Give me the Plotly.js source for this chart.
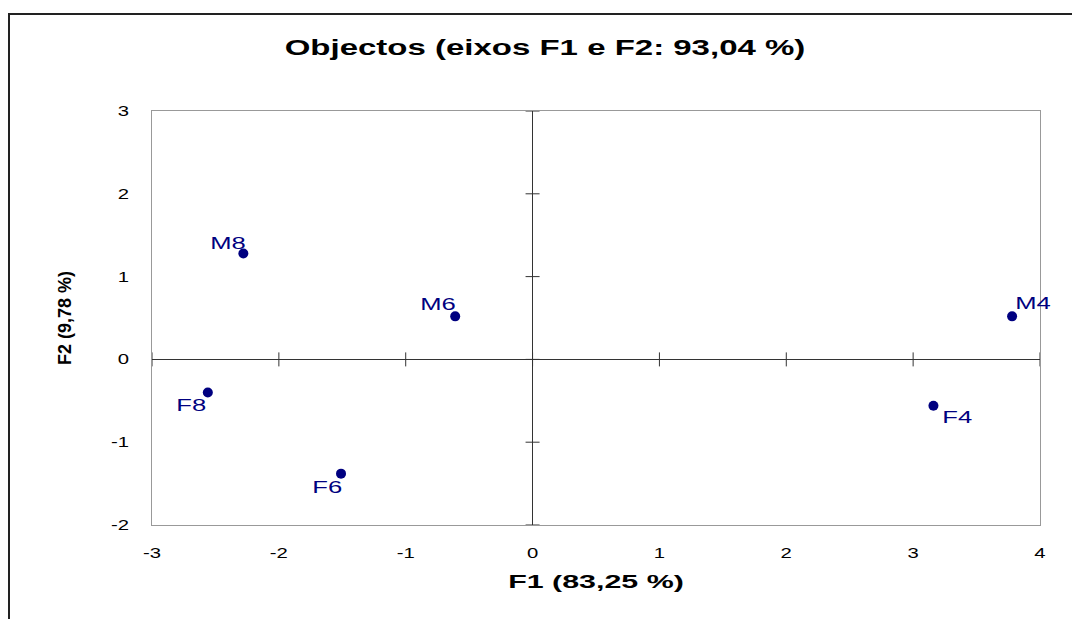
<!DOCTYPE html>
<html>
<head>
<meta charset="utf-8">
<script src="https://cdn.plot.ly/plotly-3.0.1.min.js"></script>
<style>
  html, body { margin: 0; padding: 0; background: #fff; }
  #wrap { position: relative; width: 1072px; height: 619px; overflow: hidden; }
  #chart { position: absolute; left: 0; top: 0; width: 1072px; height: 619px; }
  #frame { position: absolute; left: 8px; top: 13px; width: 2000px; height: 2000px;
           border-left: 2px solid #222; border-top: 2px solid #222; pointer-events: none; }
</style>
</head>
<body>
<div id="wrap">
  <div id="chart"></div>
  <div id="frame"></div>
</div>
<script>
// Data
const labels = ["M8", "M6", "M4", "F8", "F6", "F4"];
const f1 = [-2.28, -0.61, 3.78, -2.56, -1.51, 3.16];
const f2 = [1.28, 0.52, 0.52, -0.40, -1.38, -0.56];

const xTicks = [-3, -2, -1, 0, 1, 2, 3, 4];
const yTicks = [-2, -1, 0, 1, 2, 3];

// label placement (pixel offsets of each label centre from its point) - styling only
const labelShiftX = [-15, -17, 21, -16, -14, 24];
const labelShiftY = [10, 12, 13, -13, -14, -12];

const font = "Liberation Sans, Arial, sans-serif";
const navy = "#000080";

const traces = [
  {
    x: xTicks, y: xTicks.map(() => 0),
    mode: "markers", type: "scatter", hoverinfo: "skip", cliponaxis: false,
    marker: { symbol: "line-ns-open", size: 10, line: { width: 1, color: "#333" }, color: "#333" }
  },
  {
    x: yTicks.map(() => 0), y: yTicks,
    mode: "markers", type: "scatter", hoverinfo: "skip", cliponaxis: false,
    marker: { symbol: "line-ew-open", size: 10, line: { width: 1, color: "#333" }, color: "#333" }
  },
  {
    x: f1, y: f2, text: labels,
    mode: "markers", type: "scatter", cliponaxis: false,
    marker: { color: navy, size: 10, symbol: "circle" }
  }
];

const annotations = labels.map((lab, i) => ({
  x: f1[i], y: f2[i], xref: "x", yref: "y",
  text: lab, showarrow: false,
  xanchor: "center", yanchor: "middle",
  xshift: labelShiftX[i], yshift: labelShiftY[i],
  font: { family: font, size: 16, color: navy }
}));

const layout = {
  width: 1072, height: 619,
  margin: { l: 152, r: 32, t: 111, b: 94 },
  paper_bgcolor: "#fff", plot_bgcolor: "#fff",
  showlegend: false,
  annotations: annotations,
  title: {
    text: "<b>Objectos (eixos F1 e F2: 93,04 %)</b>",
    font: { family: font, size: 22, color: "#000" },
    x: 545 / 1072, xref: "container", xanchor: "center",
    y: 1 - 47 / 619, yref: "container", yanchor: "middle"
  },
  xaxis: {
    range: [-3, 4], tickvals: xTicks, ticktext: xTicks.map(String),
    showgrid: false, zeroline: true, zerolinecolor: "#333", zerolinewidth: 1,
    showline: true, mirror: true, linecolor: "#999", linewidth: 1,
    ticks: "outside", ticklen: 15, tickcolor: "rgba(0,0,0,0)",
    tickfont: { family: font, size: 14, color: "#000" },
    title: { text: "<b>F1 (83,25 %)</b>", font: { family: font, size: 19, color: "#000" }, standoff: 14 },
    fixedrange: true
  },
  yaxis: {
    range: [-2, 3], tickvals: yTicks, ticktext: yTicks.map(String),
    showgrid: false, zeroline: true, zerolinecolor: "#333", zerolinewidth: 1,
    showline: true, mirror: true, linecolor: "#999", linewidth: 1,
    ticks: "outside", ticklen: 19, tickcolor: "rgba(0,0,0,0)",
    tickfont: { family: font, size: 14, color: "#000" },
    title: { text: "<b>F2 (9,78 %)</b>", font: { family: font, size: 18, color: "#000" }, standoff: 40 },
    fixedrange: true
  }
};

// The reference's lettering is horizontally widened; stretch the real text glyphs.
function stretch(selector, sx, forceCenter) {
  document.querySelectorAll(selector).forEach(t => {
    const b = t.getBBox();
    const anchor = forceCenter ? "middle" : (t.getAttribute("text-anchor") || getComputedStyle(t).textAnchor || "start");
    let px = b.x + b.width / 2;
    if (anchor === "end") px = b.x + b.width;
    else if (anchor === "start") px = b.x;
    const prev = t.getAttribute("transform") || "";
    t.setAttribute("transform", prev + " translate(" + px + ",0) scale(" + sx + ",1) translate(" + (-px) + ",0)");
  });
}

Plotly.newPlot("chart", traces, layout, { displayModeBar: false, staticPlot: true }).then(() => {
  stretch("#chart .gtitle", 1.5);
  stretch("#chart .xtitle", 1.6);
  stretch("#chart .xtick text", 1.45);
  stretch("#chart .ytick text", 1.45);
  stretch("#chart .annotation-text", 1.6, true);
});
</script>
</body>
</html>
